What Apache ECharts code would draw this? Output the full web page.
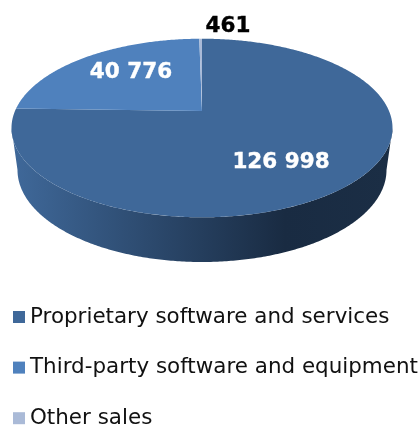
<!DOCTYPE html>
<html>
<head>
<meta charset="utf-8">
<style>html,body{margin:0;padding:0;background:#fff;overflow:hidden}#c{width:420px;height:425px}</style>
<script src="https://cdn.jsdelivr.net/npm/echarts@6/dist/echarts.min.js"></script>
</head>
<body>
<div id="c"></div>
<script>
// Sales split by revenue type
const categories = ['Proprietary software and services', 'Third-party software and equipment', 'Other sales'];
const salesValues = [126998, 40776, 461];
const sliceColors = ['#3F6899', '#4F81BD', '#AABAD7'];

// Disc geometry: top face, lower rim, and the foreshortening of the tilt
const topFace = { cx: 202, cy: 128, rx: 190.5, ry: 89.3 };
const lowerRim = { cx: 202, cy: 170, rx: 184.5, ry: 92 };
const tilt = 0.19;
const labelSpots = [[281, 162], [131, 72], [228, 26]];
const labelColors = ['#fff', '#fff', '#000'];

const total = salesValues.reduce((a, b) => a + b, 0);
const frontLimit = Math.acos(-tilt);

// Maps a clockwise angle from twelve o'clock onto an ellipse, in perspective
function project(e, angle, radius) {
  const u = Math.sin(angle) * radius, v = Math.cos(angle) * radius;
  const w = 1 + tilt * v;
  return [e.cx + e.rx * u * Math.sqrt(1 - tilt * tilt) / w, e.cy - e.ry * (v + tilt) / w];
}
function arc(e, from, to) {
  const n = Math.max(2, Math.ceil(Math.abs(to - from) / 0.01));
  const pts = [];
  for (let i = 0; i <= n; i++) pts.push(project(e, from + (to - from) * i / n, 1));
  return pts;
}
function formatValue(v) {
  return String(v).replace(/\B(?=(\d{3})+$)/g, ' ');
}

function sliceRenderer(index) {
  return function (params, api) {
    const value = api.value(0);
    const before = salesValues.slice(0, index).reduce((a, b) => a + b, 0);
    const start = before / total * 2 * Math.PI;
    const end = start + value / total * 2 * Math.PI;
    const children = [];
    // Outer wall: only the part of the slice that faces the viewer
    const wallFrom = Math.max(start, frontLimit);
    const wallTo = Math.min(end, 2 * Math.PI - frontLimit);
    if (wallTo > wallFrom) {
      children.push({
        type: 'polygon',
        shape: { points: arc(topFace, wallFrom, wallTo).concat(arc(lowerRim, wallTo, wallFrom)) },
        style: {
          fill: {
            type: 'linear', global: true, x: 15, y: 0, x2: 390, y2: 0,
            colorStops: [
              { offset: 0, color: '#3F6899' },
              { offset: 0.72, color: '#192B42' },
              { offset: 1, color: '#1B2E45' }
            ]
          }
        }
      });
    }
    const hub = project(topFace, 0, 0);
    children.push({
      type: 'polygon',
      shape: { points: [hub].concat(arc(topFace, start, end)) },
      style: { fill: sliceColors[index] }
    });
    children.push({
      type: 'text',
      z2: 10,
      style: {
        x: labelSpots[index][0], y: labelSpots[index][1],
        text: formatValue(value),
        fill: labelColors[index],
        stroke: labelColors[index],
        lineWidth: 0.4,
        fontFamily: 'DejaVu Sans',
        fontWeight: 'bold',
        fontSize: 21.5,
        align: 'center', verticalAlign: 'middle'
      }
    });
    return { type: 'group', children };
  };
}

const chart = echarts.init(document.getElementById('c'), null, { renderer: 'canvas' });
chart.setOption({
  animation: false,
  backgroundColor: '#fff',
  legend: {
    orient: 'vertical', left: 8, top: 299.5, height: 200, padding: 5,
    itemWidth: 12, itemHeight: 12, itemGap: 25.6, icon: 'rect',
    selectedMode: false,
    textStyle: { fontFamily: 'DejaVu Sans', fontSize: 21.45, color: '#111', lineHeight: 25 },
    data: categories
  },
  series: categories.map((name, i) => ({
    type: 'custom',
    name,
    coordinateSystem: 'none',
    itemStyle: { color: sliceColors[i] },
    renderItem: sliceRenderer(i),
    data: [[salesValues[i]]]
  }))
});
</script>
</body>
</html>
